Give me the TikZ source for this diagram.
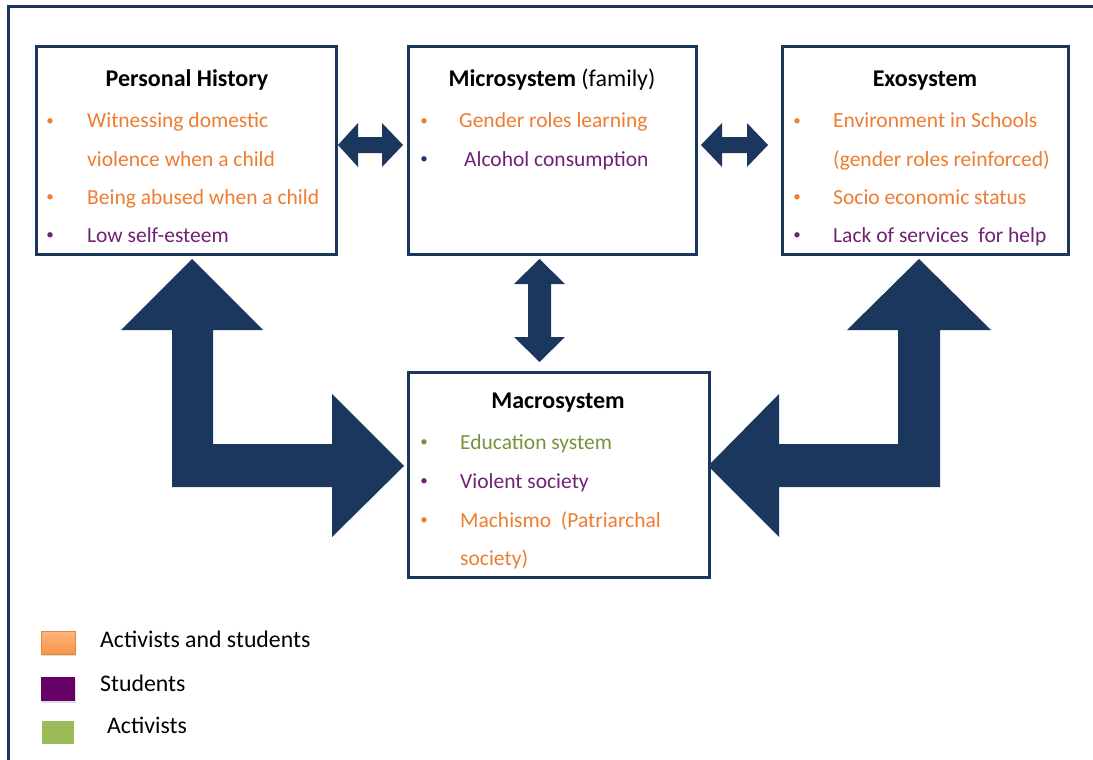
\documentclass[tikz,border=0pt]{standalone}
\usepackage{fontspec}
\setmainfont{Carlito}
\usetikzlibrary{shadows}
\definecolor{navy}{RGB}{27,55,94}
\definecolor{txtorange}{RGB}{237,125,49}
\definecolor{txtpurple}{RGB}{112,35,115}
\definecolor{txtgreen}{RGB}{119,147,60}
\definecolor{bulnavy}{RGB}{31,56,100}
\definecolor{legpurple}{RGB}{102,0,102}
\definecolor{leggreen}{RGB}{155,187,89}
\definecolor{legorange}{RGB}{247,150,70}
\definecolor{legorangelight}{RGB}{255,180,125}
\begin{document}
\begin{tikzpicture}[x=1pt,y=-1pt,
  sysbox/.style={draw=navy,line width=3pt,fill=white,inner sep=0pt,outer sep=0pt,anchor=north west},
  ttl/.style={anchor=base,inner sep=0pt,font=\fontsize{24}{28}\selectfont\bfseries},
  itm/.style={anchor=base west,inner sep=0pt,font=\fontsize{21.5}{25}\selectfont},
  bul/.style={anchor=base,inner sep=0pt,yshift=2.5pt,font=\fontsize{15}{18}\selectfont},
  leg/.style={anchor=base west,inner sep=0pt,font=\fontsize{23.8}{28}\selectfont},
  legsq/.style={inner sep=0pt,outer sep=0pt,anchor=north west},
  blockarrow/.style={fill=navy,draw=none}]
\useasboundingbox (0,0) rectangle (1093,760);
\fill[white] (0,0) rectangle (1093,760);
% outer frame
\draw[navy,line width=3pt] (8.3,760) -- (8.3,6.3) -- (1093,6.3);

% boxes
\node[sysbox,minimum width=300pt,minimum height=207pt] (ph) at (36,47) {};
\node[sysbox,minimum width=288pt,minimum height=207pt] (mic) at (408,47) {};
\node[sysbox,minimum width=286pt,minimum height=207pt] (exo) at (782,47) {};
\node[sysbox,minimum width=301pt,minimum height=205pt] (mac) at (408,372) {};

% Personal History
\node[ttl] (phT) at (187,87) {Personal History};
\node[bul,txtorange] (phB1) at (50,128) {•};
\node[itm,txtorange] (phL1) at (87,128) {Witnessing domestic};
\node[itm,txtorange] (phL2) at (87,166) {violence when a child};
\node[bul,txtorange] (phB3) at (50,204) {•};
\node[itm,txtorange] (phL3) at (87,204) {Being abused when a child};
\node[bul,txtpurple] (phB4) at (50,242) {•};
\node[itm,txtpurple] (phL4) at (87,242) {Low self-esteem};

% Microsystem
\node[ttl] (micT) at (552,87) {Microsystem\mdseries\ (family)};
\node[bul,txtorange] (micB1) at (424,128) {•};
\node[itm,txtorange] (micL1) at (459,128) {Gender roles learning};
\node[bul,bulnavy] (micB2) at (424,166) {•};
\node[itm,txtpurple] (micL2) at (464,166) {Alcohol consumption};

% Exosystem
\node[ttl] (exoT) at (925,87) {Exosystem};
\node[bul,txtorange] (exoB1) at (797,128) {•};
\node[itm,txtorange] (exoL1) at (833,128) {Environment in Schools};
\node[itm,txtorange] (exoL2) at (833,166) {(gender roles reinforced)};
\node[bul,txtorange] (exoB3) at (797,204) {•};
\node[itm,txtorange] (exoL3) at (833,204) {Socio economic status};
\node[bul,txtpurple] (exoB4) at (797,242) {•};
\node[itm,txtpurple] (exoL4) at (833,242) {Lack of services\ \ for help};

% Macrosystem
\node[ttl] (macT) at (558,408) {Macrosystem};
\node[bul,txtgreen] (macB1) at (424,449) {•};
\node[itm,txtgreen] (macL1) at (460,449) {Education system};
\node[bul,txtpurple] (macB2) at (424,488) {•};
\node[itm,txtpurple] (macL2) at (460,488) {Violent society};
\node[bul,txtorange] (macB3) at (424,527) {•};
\node[itm,txtorange] (macL3) at (460,527) {Machismo\ \ (Patriarchal};
\node[itm,txtorange] (macL4) at (460,565) {society)};

% horizontal double arrows
\fill[blockarrow] (338,145) -- (358,123) -- (358,137) -- (382,137) -- (382,123) -- (403,145)
  -- (382,167) -- (382,153) -- (358,153) -- (358,167) -- cycle;
\fill[blockarrow] (701,145) -- (722,123) -- (722,137) -- (747,137) -- (747,123) -- (768,145)
  -- (747,167) -- (747,153) -- (722,153) -- (722,167) -- cycle;
% vertical double arrow
\fill[blockarrow] (539.5,259) -- (565,284) -- (551,284) -- (551,337) -- (565,337) -- (539.5,362)
  -- (514,337) -- (528,337) -- (528,284) -- (514,284) -- cycle;
% left elbow arrow
\fill[blockarrow] (192,259) -- (263,330) -- (213,330) -- (213,444) -- (332,444) -- (332,394)
  -- (404,466) -- (332,537) -- (332,487) -- (172,487) -- (172,330) -- (121,330) -- cycle;
% right elbow arrow
\fill[blockarrow] (919,259) -- (991,330) -- (940,330) -- (940,487) -- (779,487) -- (779,537)
  -- (708,466) -- (779,394) -- (779,444) -- (898,444) -- (898,330) -- (847,330) -- cycle;

% legend
\node[legsq,minimum width=34pt,minimum height=23pt,top color=legorangelight,bottom color=legorange,
  draw=legorange!90!black,line width=0.4pt,drop shadow={shadow xshift=1pt,shadow yshift=-2pt,opacity=0.25}] (sqO) at (41,631) {};
\node[legsq,minimum width=34pt,minimum height=24pt,fill=legpurple,
  drop shadow={shadow xshift=1pt,shadow yshift=-2pt,opacity=0.25}] (sqP) at (41,677) {};
\node[legsq,minimum width=32pt,minimum height=23pt,fill=leggreen] (sqG) at (42,721) {};
\node[leg] (legO) at (100,647) {Activists and students};
\node[leg] (legP) at (100,691) {Students};
\node[leg] (legG) at (107,733) {Activists};
\end{tikzpicture}
\end{document}
